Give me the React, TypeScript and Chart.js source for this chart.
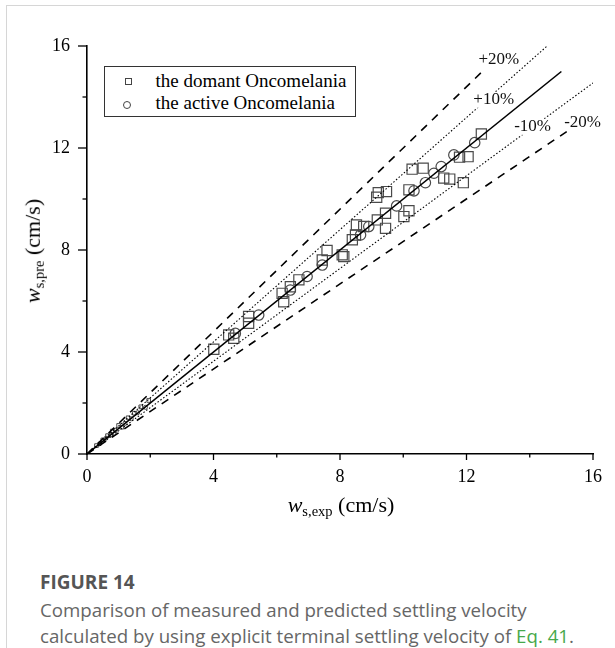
import React, { useEffect, useRef } from 'react';
import { Chart, registerables } from 'chart.js';

Chart.register(...registerables);

// ---- data ----
const axisMin = 0;
const axisMax = 16;
const labelStep = 4;
const tickPositions = [0, 2, 4, 6, 8, 10, 12, 14, 16];

const domantX = [12.47, 12.05, 11.78, 10.28, 10.63, 11.28, 11.47, 11.9, 10.18, 10.18, 10.02, 9.44, 9.18, 9.44, 8.52, 8.75, 8.49, 8.39, 9.21, 9.47, 9.16, 7.59, 7.44, 8.07, 8.12, 6.7, 6.43, 6.17, 6.22, 4.01, 4.48, 4.64, 5.11, 5.11];
const domantY = [12.55, 11.66, 11.64, 11.17, 11.21, 10.82, 10.78, 10.64, 10.36, 9.54, 9.31, 9.44, 9.18, 8.85, 8.98, 8.92, 8.59, 8.4, 10.25, 10.29, 10.07, 7.98, 7.61, 7.81, 7.74, 6.83, 6.56, 6.3, 5.97, 4.11, 4.67, 4.54, 5.39, 5.13];

const activeX = [12.26, 11.6, 11.2, 10.97, 10.7, 10.34, 9.79, 8.91, 8.65, 7.44, 6.96, 6.43, 4.69, 5.43];
const activeY = [12.21, 11.73, 11.27, 11.01, 10.64, 10.32, 9.73, 8.92, 8.59, 7.41, 6.96, 6.43, 4.73, 5.45];

const smallDomantX = [0.3, 0.5, 0.65, 0.8, 1.0, 1.1, 1.3, 1.5, 1.7, 1.95];
const smallDomantY = [0.33, 0.55, 0.72, 0.9, 1.12, 1.05, 1.42, 1.6, 1.85, 2.1];
const smallActiveX = [0.4, 0.6, 0.75, 0.9, 1.2, 1.4, 1.6, 1.85];
const smallActiveY = [0.4, 0.62, 0.74, 0.93, 1.2, 1.38, 1.62, 1.83];

const identityEndX = 15;
const identityEndY = 15;

const refLabels = ['+20%', '+10%', '-10%', '-20%'];
const refEndX = [12.5, 14.55, 16, 15.2];
const refEndY = [15, 16, 14.55, 12.67];
const refDashed = [true, false, false, true];
const refLabelX = [13.02, 12.86, 14.09, 15.67];
const refLabelY = [15.46, 13.89, 12.83, 12.99];

const legendLabels = ['the domant Oncomelania', 'the active Oncomelania'];

// ---- layout ----
const CANVAS_W = 615;
const CANVAS_H = 540;
const PLOT_LEFT = 87;
const PLOT_TOP = 46;
const PLOT_RIGHT = 593;
const PLOT_BOTTOM = 454;
const SERIF = '"Liberation Serif", "Times New Roman", serif';
const SANS = '"Open Sans", "Noto Sans", sans-serif';

const ticksPlugin = {
  id: 'customTicks',
  afterDraw(chart: any) {
    const { ctx } = chart;
    const xs = chart.scales.x;
    const ys = chart.scales.y;
    ctx.save();
    ctx.strokeStyle = '#000';
    ctx.lineWidth = 1.3;
    for (const v of tickPositions) {
      const major = v % labelStep === 0;
      const px = xs.getPixelForValue(v);
      ctx.beginPath();
      ctx.moveTo(px, xs.top);
      ctx.lineTo(px, xs.top + (major ? 6 : 3.5));
      ctx.stroke();
      const py = ys.getPixelForValue(v);
      ctx.beginPath();
      ctx.moveTo(ys.right, py);
      ctx.lineTo(ys.right - (major ? 9 : 4.5), py);
      ctx.stroke();
    }
    ctx.font = `17px ${SERIF}`;
    ctx.textAlign = 'center';
    ctx.textBaseline = 'middle';
    refLabels.forEach((t, i) => {
      const cx = xs.getPixelForValue(refLabelX[i]);
      const cy = ys.getPixelForValue(refLabelY[i]);
      const w = ctx.measureText(t).width;
      ctx.fillStyle = '#fff';
      ctx.fillRect(cx - w / 2 - 1, cy - 8, w + 2, 16);
      ctx.fillStyle = '#111';
      ctx.fillText(t, cx, cy);
    });
    ctx.restore();
  },
};

export default function App() {
  const ref = useRef<HTMLCanvasElement | null>(null);

  useEffect(() => {
    if (!ref.current) return;
    const toPts = (xs: number[], ys: number[]) => xs.map((x, i) => ({ x, y: ys[i] }));
    const lineDs = (pts: any[], dashed: boolean | null) => ({
      type: 'line' as const,
      data: pts,
      showLine: true,
      pointRadius: 0,
      borderColor: '#000',
      borderWidth: dashed === null ? 1.6 : dashed ? 1.6 : 1.1,
      borderDash: dashed === null ? [] : dashed ? [8, 7] : [1.5, 2],
      fill: false,
      tension: 0,
    });
    const markerDs = (pts: any[], style: string, r: number, w: number) => ({
      type: 'scatter' as const,
      data: pts,
      pointStyle: style,
      pointRadius: r,
      pointBorderColor: '#4a4a4a',
      pointBackgroundColor: 'rgba(0,0,0,0)',
      pointBorderWidth: w,
      showLine: false,
    });

    const datasets: any[] = [
      lineDs([{ x: 0, y: 0 }, { x: identityEndX, y: identityEndY }], null),
      ...refEndX.map((ex, i) => lineDs([{ x: 0, y: 0 }, { x: ex, y: refEndY[i] }], refDashed[i])),
      markerDs(toPts(domantX, domantY), 'rect', 7.2, 1.2),
      markerDs(toPts(activeX, activeY), 'circle', 5.2, 1.2),
      markerDs(toPts(smallDomantX, smallDomantY), 'rect', 2.6, 1),
      markerDs(toPts(smallActiveX, smallActiveY), 'circle', 2, 1),
    ];

    const tickFont = { family: SERIF, size: 18 };
    const chart = new Chart(ref.current, {
      type: 'scatter',
      data: { datasets },
      plugins: [ticksPlugin],
      options: {
        animation: false,
        responsive: false,
        devicePixelRatio: 1,
        layout: { padding: { left: 0, top: PLOT_TOP, right: CANVAS_W - PLOT_RIGHT, bottom: 0 } },
        plugins: { legend: { display: false }, tooltip: { enabled: false } },
        scales: {
          x: {
            type: 'linear',
            position: 'bottom',
            min: axisMin,
            max: axisMax,
            afterFit: (s: any) => { s.height = CANVAS_H - PLOT_BOTTOM; },
            grid: { display: false, drawTicks: false },
            border: { display: true, color: '#000', width: 1.6 },
            ticks: { stepSize: labelStep, padding: 12, color: '#000', font: tickFont, maxRotation: 0, autoSkip: false },
          },
          y: {
            type: 'linear',
            min: axisMin,
            max: axisMax,
            afterFit: (s: any) => { s.width = PLOT_LEFT; },
            grid: { display: false, drawTicks: false },
            border: { display: true, color: '#000', width: 1.6 },
            ticks: { stepSize: labelStep, padding: 17, color: '#000', font: tickFont, autoSkip: false },
          },
        },
      } as any,
    });
    return () => chart.destroy();
  }, []);

  return (
    <div style={{ position: 'fixed', left: 0, top: 0, width: 615, height: 648, overflow: 'hidden', background: '#fff' }}>
      <div style={{ position: 'absolute', left: 6, top: 5, width: 609, height: 643, boxSizing: 'border-box', borderLeft: '1px solid #d6d6d6', borderTop: '1px solid #d6d6d6' }} />
      <canvas ref={ref} width={CANVAS_W} height={CANVAS_H} style={{ position: 'absolute', left: 0, top: 0, width: CANVAS_W, height: CANVAS_H }} />
      {/* legend */}
      <div style={{ position: 'absolute', left: 104, top: 66, width: 252, height: 51, boxSizing: 'border-box', border: '1px solid #333', background: '#fff' }} />
      <div style={{ position: 'absolute', left: 125, top: 78, width: 7, height: 7, boxSizing: 'border-box', border: '1px solid #444' }} />
      <div style={{ position: 'absolute', left: 123, top: 100.5, width: 8, height: 8, boxSizing: 'border-box', border: '1px solid #444', borderRadius: '50%' }} />
      <div style={{ position: 'absolute', left: 155.5, top: 70.8, font: `19px ${SERIF}`, lineHeight: '19px', whiteSpace: 'nowrap', color: '#000' }}>{legendLabels[0]}</div>
      <div style={{ position: 'absolute', left: 155.5, top: 93.4, font: `19px ${SERIF}`, lineHeight: '19px', whiteSpace: 'nowrap', color: '#000' }}>{legendLabels[1]}</div>
      {/* axis titles */}
      <div style={{ position: 'absolute', left: 341, top: 508, transform: 'translate(-50%, -50%)', font: `22px ${SERIF}`, lineHeight: '22px', whiteSpace: 'nowrap', color: '#000' }}>
        <i>w</i><span style={{ fontSize: '0.66em', verticalAlign: '-0.3em' }}>s,exp</span> (cm/s)
      </div>
      <div style={{ position: 'absolute', left: 36, top: 251, transform: 'translate(-50%, -50%) rotate(-90deg)', font: `22px ${SERIF}`, lineHeight: '22px', whiteSpace: 'nowrap', color: '#000' }}>
        <i>w</i><span style={{ fontSize: '0.66em', verticalAlign: '-0.3em' }}>s,pre</span> (cm/s)
      </div>
      {/* caption */}
      <div style={{ position: 'absolute', left: 40, top: 568, font: `bold 19px ${SANS}`, lineHeight: '28px', color: '#555', whiteSpace: 'nowrap' }}>FIGURE 14</div>
      <div style={{ position: 'absolute', left: 40, top: 596, font: `18.7px ${SANS}`, lineHeight: '28px', color: '#666', whiteSpace: 'nowrap' }}>Comparison of measured and predicted settling velocity</div>
      <div style={{ position: 'absolute', left: 40, top: 622, font: `18.7px ${SANS}`, lineHeight: '28px', color: '#666', whiteSpace: 'nowrap' }}>
        calculated by using explicit terminal settling velocity of <span style={{ color: '#46a84a' }}>Eq. 41</span>.
      </div>
    </div>
  );
}
